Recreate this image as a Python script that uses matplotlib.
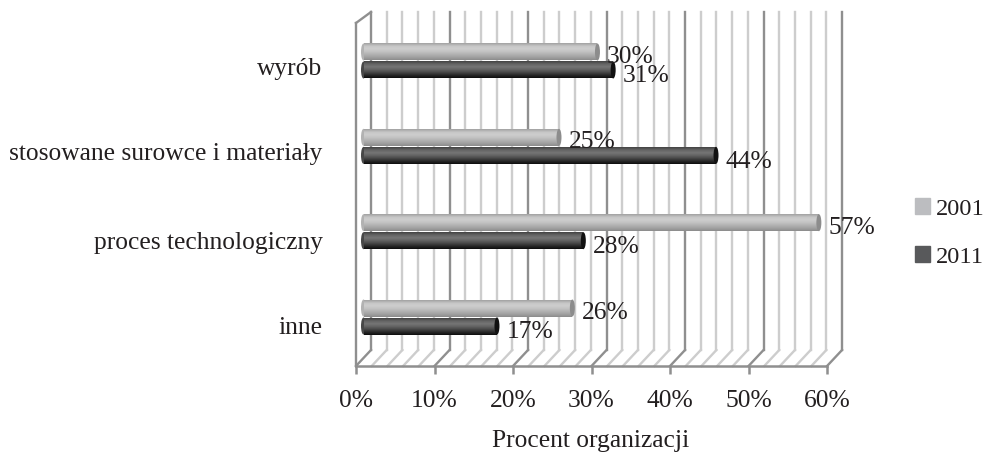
import matplotlib
matplotlib.use("Agg")
import matplotlib.pyplot as plt
from matplotlib.patches import Ellipse, Patch
from matplotlib.transforms import ScaledTranslation
import numpy as np

categories = ["inne", "proces technologiczny", "stosowane surowce i materiały", "wyrób"]
# bar lengths (they differ a little from the printed labels)
values_2001 = [26.6, 58.0, 24.9, 29.8]
values_2011 = [17.0, 28.0, 44.9, 31.8]
labels_2001 = ["26%", "57%", "25%", "30%"]
labels_2011 = ["17%", "28%", "44%", "31%"]
x_ticks = [0, 10, 20, 30, 40, 50, 60]
x_tick_labels = ["0%", "10%", "20%", "30%", "40%", "50%", "60%"]

plt.rcParams['font.family'] = ['Liberation Serif', 'DejaVu Sans']
plt.rcParams['font.size'] = 18.4

W, H = 987, 453
fig = plt.figure(figsize=(W / 100, H / 100), dpi=100)

# axes box: 0% at px 356, wall ends at px 843, floor at py 366, top at py 12
ax = fig.add_axes([356 / W, 1 - 366 / H, (843 - 356) / W, (366 - 12) / H])
ax.set_xlim(0, 62.03)
ax.set_ylim(-0.574, 3.574)

px_x = 62.03 / (843 - 356)
px_y = 4.148 / (366 - 12)
depth_x = 15 * px_x
depth_y = 16 * px_y
y_bot = -0.574
y_top = 3.574

# walls and floor of the fake 3d box
minor = "#cdcdcd"
major = "#8f8f8f"
for g in range(0, 62, 2):
    c = major if g % 10 == 0 else minor
    ax.plot([g + depth_x, g + depth_x], [y_bot + depth_y, y_top], color=c, lw=1.7, zorder=1, clip_on=False)
    ax.plot([g, g + depth_x], [y_bot, y_bot + depth_y], color=c, lw=1.7, zorder=1, clip_on=False)
ax.plot([0, 0], [y_bot, y_top - 11 * px_y], color=major, lw=1.7, zorder=1, clip_on=False)
ax.plot([0, depth_x], [y_top - 11 * px_y, y_top], color=major, lw=1.7, zorder=1, clip_on=False)

# cylinder look, stops from top to bottom
light_shades = ["#a6a6a6", "#c6c6c6", "#cdcdcd", "#c2c2c2", "#b2b2b2", "#a2a2a2", "#8e8e8e"]
dark_shades = ["#474747", "#656565", "#757575", "#626262", "#484848", "#2a2a2a", "#101010"]
bar_h = 17 * px_y
bar_x0 = 7.5 * px_x


def draw_bars(vals, center_shift, shades, cap, zorder):
    # one strip per pixel row, each strip runs to the bar bottom so no seams show
    stops = np.linspace(0, 1, len(shades))
    grey = [int(s[1:3], 16) / 255 for s in shades]
    for i, v in enumerate(vals):
        yc = i + center_shift
        ax.add_patch(Ellipse((bar_x0, yc), 5 * px_x, bar_h, color=shades[4], lw=0, zorder=zorder))
        for k in range(17):
            g = np.interp(k / 16, stops, grey)
            top = yc + bar_h / 2 - k * px_y
            ax.barh(yc - bar_h / 2, v, height=top - (yc - bar_h / 2), left=bar_x0, align="edge",
                    color=(g, g, g), linewidth=0, zorder=zorder)
        ax.add_patch(Ellipse((bar_x0 + v, yc), 5 * px_x, bar_h, color=cap, lw=0, zorder=zorder))


draw_bars(values_2001, 9 * px_y, light_shades, "#8c8c8c", 3)
draw_bars(values_2011, -9 * px_y, dark_shades, "#111111", 4)

# value labels
for i in range(4):
    ax.annotate(labels_2001[i], (bar_x0 + values_2001[i], i + 9 * px_y), xytext=(7, -3.5),
                textcoords="offset points", va="center", ha="left", color="#231f20", zorder=6)
    ax.annotate(labels_2011[i], (bar_x0 + values_2011[i], i - 9 * px_y), xytext=(7, -4.5),
                textcoords="offset points", va="center", ha="left", color="#231f20", zorder=6)

for s in ["top", "right", "left"]:
    ax.spines[s].set_visible(False)
ax.spines["bottom"].set_color(major)
ax.spines["bottom"].set_linewidth(1.8)
ax.spines["bottom"].set_bounds(0, 60)
ax.patch.set_alpha(0)

ax.set_xticks(x_ticks)
ax.set_xticklabels(x_tick_labels, color="#231f20")
ax.tick_params(axis="x", length=6, width=1.8, color=major, pad=11)
ax.set_yticks(range(4))
ax.set_yticklabels(categories, color="#231f20")
ax.tick_params(axis="y", length=0, pad=24)
for lab, shift in zip(ax.get_yticklabels(), [-6, -6, -4, -4]):
    lab.set_transform(lab.get_transform() + ScaledTranslation(0, shift / 72, fig.dpi_scale_trans))

fig.text(591 / W, 1 - 441 / H, "Procent organizacji", ha="center", va="center", color="#231f20")

# legend
handles = [Patch(color="#bcbdc0", label="2001"), Patch(color="#58595b", label="2011")]
fig.legend(handles=handles, loc="center left", bbox_to_anchor=(915 / W, 1 - 233 / H), frameon=False,
           fontsize=17.6, handlelength=0.62, handleheight=0.62, handletextpad=0.22, labelspacing=1.1,
           labelcolor="#231f20", borderpad=0, borderaxespad=0)

fig.savefig("out.png", dpi=100)
